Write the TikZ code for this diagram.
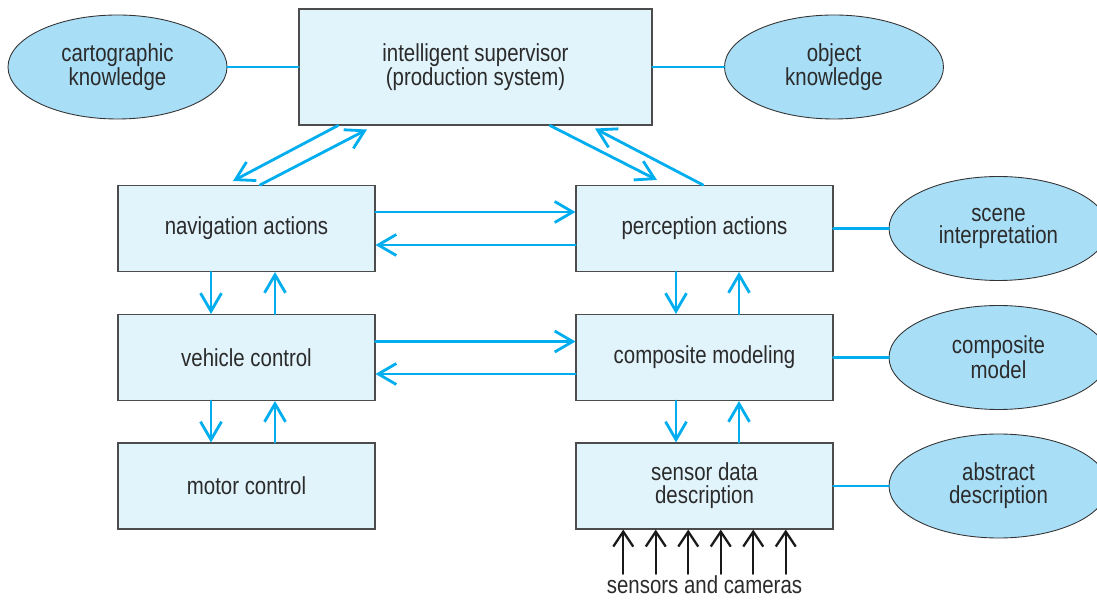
\documentclass[tikz,border=0pt]{standalone}
\usepackage{fontspec}
\setmainfont{Liberation Sans}[FakeStretch=0.83]
\usepackage{tikz}
\usetikzlibrary{arrows.meta,shapes.geometric}
\usepackage{xcolor}
\definecolor{flowblue}{HTML}{00AEEF}
\definecolor{boxfill}{HTML}{E1F3FB}
\definecolor{blobfill}{HTML}{A9DEF7}
\definecolor{inkgray}{HTML}{2B2B2B}
\tikzset{
  box/.style={draw=black!70,line width=0.6pt,fill=boxfill,minimum width=5.14cm,minimum height=1.72cm,inner sep=0pt,align=center},
  blob/.style={ellipse,draw=black!80,line width=0.5pt,fill=blobfill,minimum width=4.38cm,minimum height=2.08cm,inner sep=0pt,align=center},
  link/.style={flowblue,line width=1.6pt},
  flow/.style={link,-{Straight Barb[length=3.6mm,width=4.2mm]}},
  feed/.style={black!90,line width=1.3pt,-{Straight Barb[length=3mm,width=4mm]}}
}
\begin{document}
\begin{tikzpicture}[font=\fontsize{14pt}{13pt}\selectfont,text=inkgray,line cap=round]
\clip (0,0) rectangle (21.94,11.98);
\node[box,minimum width=7.06cm,minimum height=2.32cm] (sup) at (9.51,10.64) {intelligent supervisor\\(production system)};
\node[box] (nav) at (4.93,7.41) {navigation actions};
\node[box] (veh) at (4.93,4.83) {vehicle control};
\node[box] (mot) at (4.93,2.26) {motor control};
\node[box] (per) at (14.09,7.41) {perception actions};
\node[box] (com) at (14.09,4.83) {composite modeling};
\node[box] (sen) at (14.09,2.26) {sensor data\\description};
\node[blob] (cart) at (2.35,10.64) {cartographic\\knowledge};
\node[blob] (obj) at (16.68,10.64) {object\\knowledge};
\node[blob] (scene) at (19.97,7.41) {scene\\interpretation};
\node[blob] (cmod) at (19.97,4.83) {composite\\model};
\node[blob] (abs) at (19.97,2.26) {abstract\\description};
\node[inner sep=1pt] (cams) at (14.09,0.28) {sensors and cameras};
% knowledge links
\draw[link] (cart) -- (sup);
\draw[link] (sup) -- (obj);
\draw[link] (per) -- (scene);
\draw[link] (com) -- (cmod);
\draw[link] (sen) -- (abs);
% supervisor <-> actions
\draw[flow] ([xshift=-2.75cm]sup.south) -- ([xshift=-0.27cm,yshift=0.08cm]nav.north);
\draw[flow] ([xshift=0.27cm]nav.north) -- ([xshift=-2.17cm,yshift=-0.08cm]sup.south);
\draw[flow] ([xshift=1.49cm]sup.south) -- ([xshift=-0.95cm,yshift=0.1cm]per.north);
\draw[flow] ([xshift=-0.03cm]per.north) -- ([xshift=2.39cm,yshift=-0.06cm]sup.south);
% left <-> right
\draw[flow] ([yshift=0.33cm]nav.east) -- ([yshift=0.33cm]per.west);
\draw[flow] ([yshift=-0.33cm]per.west) -- ([yshift=-0.33cm]nav.east);
\draw[flow] ([yshift=0.32cm]veh.east) -- ([yshift=0.32cm]com.west);
\draw[flow] ([yshift=-0.33cm]com.west) -- ([yshift=-0.33cm]veh.east);
% up and down
\draw[flow] ([xshift=-0.71cm]nav.south) -- ([xshift=-0.71cm]veh.north);
\draw[flow] ([xshift=0.57cm]veh.north) -- ([xshift=0.57cm]nav.south);
\draw[flow] ([xshift=-0.71cm]veh.south) -- ([xshift=-0.71cm]mot.north);
\draw[flow] ([xshift=0.57cm]mot.north) -- ([xshift=0.57cm]veh.south);
\draw[flow] ([xshift=-0.57cm]per.south) -- ([xshift=-0.57cm]com.north);
\draw[flow] ([xshift=0.69cm]com.north) -- ([xshift=0.69cm]per.south);
\draw[flow] ([xshift=-0.57cm]com.south) -- ([xshift=-0.57cm]sen.north);
\draw[flow] ([xshift=0.69cm]sen.north) -- ([xshift=0.69cm]com.south);
% sensor inputs
\foreach \i in {1,...,6}
  \draw[feed] ([xshift={(\i-3.5)*0.65cm}]cams.north) -- ([xshift={(\i-3.5)*0.65cm}]sen.south);
\end{tikzpicture}
\end{document}
